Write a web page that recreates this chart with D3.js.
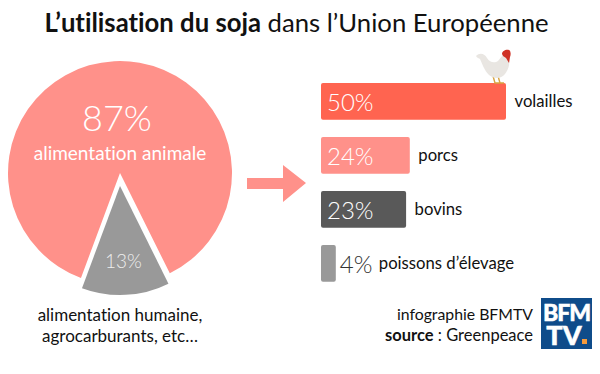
<!DOCTYPE html>
<html>
<head>
<meta charset="utf-8">
<script src="https://cdn.jsdelivr.net/npm/d3@7"></script>
<style>
  html, body { margin: 0; padding: 0; background: #fff; }
  text { font-family: Lato, "Noto Sans", sans-serif; font-variant-ligatures: none; }
</style>
</head>
<body>
<div id="chart"></div>
<script>
const pieLabels = ['alimentation animale', 'alimentation humaine'];
const pieValues = [87, 13];
const pieColors = ['#ff918a', '#999999'];

const categories = ['volailles', 'porcs', 'bovins', 'poissons d’élevage'];
const shares = [50, 24, 23, 4];
const barColors = ['#ff6450', '#ff918a', '#595959', '#999999'];

const width = 600;
const height = 374;

const svg = d3.select('#chart').append('svg')
  .attr('width', width)
  .attr('height', height)
  .style('display', 'block');

// title
const title = svg.append('text')
  .attr('x', 296.5)
  .attr('y', 32)
  .attr('text-anchor', 'middle')
  .style('font-size', '25.7px')
  .style('fill', '#111');
title.append('tspan').style('font-weight', 700).text('L’utilisation du soja');
title.append('tspan').text(' dans l’Union Européenne');

// pie, the small slice is pulled down out of the circle
const pie = d3.pie()
  .sort(null)
  .startAngle(200.4 * Math.PI / 180)
  .endAngle(560.4 * Math.PI / 180);
const slices = pie(pieValues);
const bigArc = d3.arc().innerRadius(0).outerRadius(112);
const smallArc = d3.arc().innerRadius(0).outerRadius(109);

const pieG = svg.append('g').attr('transform', 'translate(120,173)');
pieG.selectAll('path')
  .data(slices)
  .enter().append('path')
  .attr('d', (d, i) => (i === 0 ? bigArc(d) : smallArc(d)))
  .attr('transform', (d, i) => (i === 0 ? null : 'translate(0,13)'))
  .style('fill', (d, i) => pieColors[i]);

svg.append('text')
  .attr('x', 117).attr('y', 131)
  .attr('text-anchor', 'middle')
  .style('font-size', '36px').style('font-weight', 300).style('fill', '#fff')
  .text(pieValues[0] + '%');
svg.append('text')
  .attr('x', 120).attr('y', 160)
  .attr('text-anchor', 'middle')
  .style('font-size', '19px').style('fill', '#fff')
  .text(pieLabels[0]);
svg.append('text')
  .attr('x', 123.5).attr('y', 268)
  .attr('text-anchor', 'middle')
  .style('font-size', '19px').style('font-weight', 300).style('fill', '#eee')
  .text(pieValues[1] + '%');

const below = svg.append('text')
  .attr('text-anchor', 'middle')
  .style('font-size', '17px').style('fill', '#111');
below.append('tspan').attr('x', 120).attr('y', 321).text(pieLabels[1] + ',');
below.append('tspan').attr('x', 120).attr('y', 342).text('agrocarburants, etc…');

// arrow
svg.append('path')
  .attr('d', 'M247,178H283V165L306,183L283,202V189H247Z')
  .style('fill', pieColors[0]);

// bars
const x = d3.scaleLinear().domain([0, 50]).range([321, 506]);
const y = d3.scaleBand().domain(categories).range([83, 281.7]).paddingInner(0.32);

const rows = svg.selectAll('.row')
  .data(categories)
  .enter().append('g')
  .classed('row', true);

rows.append('rect')
  .attr('x', x(0))
  .attr('y', d => y(d))
  .attr('width', (d, i) => x(shares[i]) - x(0))
  .attr('height', y.bandwidth())
  .attr('rx', 2)
  .style('fill', (d, i) => barColors[i]);

rows.append('text')
  .attr('x', (d, i) => (shares[i] < 10 ? x(shares[i]) + 4 : x(0) + 6))
  .attr('y', d => y(d) + 28)
  .style('font-size', '24px')
  .style('font-weight', 300)
  .style('fill', (d, i) => (shares[i] < 10 ? '#333' : '#fff'))
  .text((d, i) => shares[i] + '%');

rows.append('text')
  .attr('x', (d, i) => (shares[i] < 10 ? x(shares[i]) + 43 : x(shares[i]) + 8.5))
  .attr('y', d => y(d) + 24)
  .style('font-size', '16.7px')
  .style('fill', '#111')
  .text(d => d);

// rooster sitting on the first bar
const rooster = svg.append('g').attr('transform', 'translate(476,49)');
rooster.append('path')
  .attr('d', 'M17,27L19,34H24M22,27L24,34H28')
  .style('fill', 'none').style('stroke', '#d9a441').style('stroke-width', 1.4);
rooster.append('path')
  .attr('d', 'M0,7C4,3 9,5 11,9C14,14 19,14 22,12C24,10 25,7 28,6L33,9C34,14 33,20 29,25C25,30 18,30 13,26C8,21 6,14 4,10C3,9 1,9 0,7Z')
  .style('fill', '#e9e6e2');
rooster.append('path')
  .attr('d', 'M26,5C26,2 30,0 33,1C35,2 35,6 34,8L33,14L30,9L27,7Z')
  .style('fill', '#cf3226');

// source
const source = svg.append('text')
  .attr('text-anchor', 'end')
  .style('font-size', '16.5px').style('fill', '#111');
source.append('tspan').attr('x', 533).attr('y', 320).style('font-size', '15.8px').text('infographie BFMTV');
const sourceLine = source.append('tspan').attr('x', 533).attr('y', 341);
sourceLine.append('tspan').style('font-weight', 700).text('source');
sourceLine.append('tspan').text(' : Greenpeace');

// logo, both lines in one text
const logo = svg.append('g').attr('transform', 'translate(541,298)');
logo.append('rect').attr('width', 51).attr('height', 51).style('fill', '#0f4c8a');
const logoText = logo.append('text')
  .attr('text-anchor', 'middle')
  .style('font-weight', 900).style('fill', '#fff')
  .style('stroke', '#fff').style('stroke-width', 0.5);
logoText.append('tspan')
  .attr('x', 25.5).attr('y', 23)
  .style('font-size', '23px').style('letter-spacing', '-1px')
  .text('BFM');
logoText.append('tspan')
  .attr('x', 23).attr('y', 47)
  .style('font-size', '27px')
  .text('TV');
logo.append('rect').attr('x', 41).attr('y', 41).attr('width', 5).attr('height', 5).style('fill', '#f59a3c');
</script>
</body>
</html>
